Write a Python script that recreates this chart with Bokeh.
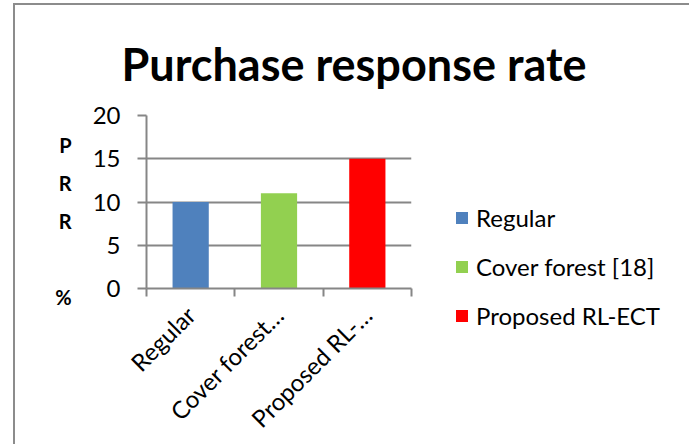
from bokeh.plotting import figure
from bokeh.models import (ColumnDataSource, Legend, LegendItem, FixedTicker, Range1d, LinearAxis)
from bokeh.embed import file_html
from bokeh.resources import INLINE
import math

# ---- data ----
categories = ["Regular", "Cover forest [18]", "Proposed RL-ECT"]
tick_labels = ["Regular", "Cover forest\u2026", "Proposed RL-\u2026"]
values = [10, 11, 15]
colors = ["#4F81BD", "#92D050", "#FF0000"]
y_ticks = [0, 5, 10, 15, 20]
title_text = "Purchase response rate"
y_label_text = "\nP\nR\nR\n\n%"

# ---- layout (page pixels) ----
OX, OY = 15, 5                 # content box inside the grey border
RIGHT_EDGE = 679
BOX_W = RIGHT_EDGE - OX
H = 460
FL, FR, FT, FB = 146 - OX, 411 - OX, 115 - OY, 288 - OY   # frame in canvas px
FONT = "Lato"
GRAY = "#868686"
n = len(categories)
centers = [i + 0.5 for i in range(n)]
edges = list(range(n + 1))

p = figure(frame_width=FR - FL, frame_height=FB - FT, x_range=Range1d(0, n), y_range=Range1d(0, 20),
           output_backend="svg", toolbar_location=None,
           x_axis_location=None, y_axis_location="left",
           min_border_left=FL, min_border_right=BOX_W - FR, min_border_top=FT,
           min_border_bottom=H - FB, margin=(OY, 0, 0, OX),
           styles={"outline": "2px solid #8C8C8C"})
p.outline_line_color = None
p.background_fill_color = "white"
p.border_fill_color = "white"

# title
p.title.text = title_text
p.title.text_font = FONT
p.title.text_font_style = "bold"
p.title.text_font_size = "45px"
p.title.text_color = "black"
p.title.align = "left"
p.title.offset = -25
p.title.vertical_align = "bottom"
p.title.standoff = 50

src = ColumnDataSource(dict(x=centers, cat=categories, val=values, color=colors))
r = p.vbar(x="x", top="val", width=0.41, fill_color="color", line_color=None, source=src)

# grid
p.xgrid.visible = False
p.ygrid.ticker = FixedTicker(ticks=y_ticks)
p.ygrid.grid_line_color = GRAY
p.ygrid.grid_line_width = 2

# y axis
ya = p.yaxis[0]
ya.ticker = FixedTicker(ticks=y_ticks)
ya.axis_line_color = GRAY
ya.axis_line_width = 2
ya.major_tick_line_color = GRAY
ya.major_tick_line_width = 2
ya.major_tick_out = 9
ya.major_tick_in = 0
ya.minor_tick_line_color = None
ya.major_label_text_font = FONT
ya.major_label_text_font_size = "24px"
ya.major_label_text_color = "black"
ya.major_label_standoff = 17
ya.axis_label = y_label_text
ya.axis_label_orientation = "horizontal"
ya.axis_label_text_font = FONT
ya.axis_label_text_font_style = "bold"
ya.axis_label_text_font_size = "20px"
ya.axis_label_text_color = "black"
ya.axis_label_text_line_height = 1.58
ya.axis_label_standoff = 18

# x axis: tick-only axis at category edges, then label axis
xt = LinearAxis(ticker=FixedTicker(ticks=edges))
xt.axis_line_color = GRAY
xt.axis_line_width = 2
xt.major_tick_line_color = GRAY
xt.major_tick_line_width = 2
xt.major_tick_out = 8
xt.major_tick_in = 0
xt.minor_tick_line_color = None
xt.major_label_text_font_size = "0px"
xt.major_label_standoff = 0
xt.major_label_overrides = {e: "" for e in edges}
p.add_layout(xt, "below")

xc = LinearAxis(ticker=FixedTicker(ticks=centers))
xc.axis_line_color = None
xc.major_tick_line_color = None
xc.minor_tick_line_color = None
xc.major_tick_out = 0
xc.major_tick_in = 0
xc.major_label_overrides = dict(zip(centers, tick_labels))
xc.major_label_orientation = math.pi / 4
xc.major_label_text_font = FONT
xc.major_label_text_font_size = "24px"
xc.major_label_text_color = "black"
xc.major_label_standoff = 14
p.add_layout(xc, "below")

# legend in the right-hand panel
items = [LegendItem(label=c, renderers=[r], index=i) for i, c in enumerate(categories)]
leg_bottom_page = 329.5
leg = Legend(items=items, location=(454 - 411, 288 - leg_bottom_page), orientation="vertical",
             glyph_width=15, glyph_height=15, label_standoff=7, spacing=20,
             label_text_font=FONT, label_text_font_size="24px", label_text_color="black",
             padding=0, margin=0, border_line_color=None, background_fill_alpha=0)
p.add_layout(leg, "right")

open("out.html", "w").write(file_html(p, INLINE))
